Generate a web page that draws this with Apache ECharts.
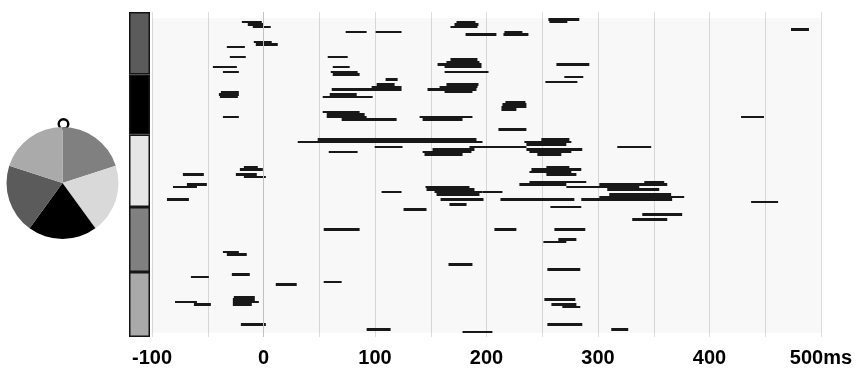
<!DOCTYPE html>
<html>
<head>
<meta charset="utf-8">
<script src="https://cdn.jsdelivr.net/npm/echarts@6/dist/echarts.min.js"></script>
<style>
html,body{margin:0;padding:0;background:#fff;}
#chart{width:856px;height:368px;}
</style>
</head>
<body>
<div id="chart"></div>
<script>
// ---- data ----
// electrode groups (top to bottom of the colour bar): number of channels per group
const groupNames = ['Left', 'Posterior', 'Right', 'Right-frontal', 'Left-frontal'];
const groupSizes = [25, 24, 29, 26, 26];
const groupColors = ['#5b5b5b', '#000000', '#e6e6e6', '#808080', '#a9a9a9'];

// scalp map sectors (clockwise from 12 o'clock)
const scalpSectors = ['Right-frontal', 'Right', 'Posterior', 'Left', 'Left-frontal'];
const scalpValues = [1, 1, 1, 1, 1];
const scalpColors = ['#808080', '#d9d9d9', '#000000', '#5b5b5b', '#aaaaaa'];

// time axis
const timeMin = -100, timeMax = 500, timeStep = 50;
const timeLabels = {'-100': '-100', '0': '0', '100': '100', '200': '200', '300': '300', '400': '400', '500': '500ms'};

// significant intervals: [start ms, end ms, channel]
const group1Segments = [
  [-19.4, -1.5, 4], [-14.1, 0.3, 5], [-9.6, 6.5, 6],
  [173.1, 190.1, 4], [171.3, 192.8, 5], [167.7, 191.9, 6],
  [255.5, 283.2, 3], [256.4, 272.5, 4],
  [73.7, 92.5, 8], [100.6, 123.8, 8], [181.2, 208.9, 9],
  [216.1, 232.2, 8], [215.2, 237.6, 9], [473.1, 489.2, 7],
  [-8.7, 7.4, 12], [-6.9, 12.8, 13], [-32.9, -16.7, 14],
  [-30.2, -15.9, 18], [57.6, 75.5, 18],
  [167.7, 191.9, 19], [164.1, 193.7, 20], [156.1, 195.5, 21], [162.4, 195.5, 22], [162.4, 201.8, 24],
  [262.7, 292.2, 21], [62.1, 77.3, 22], [-45.4, -23.9, 22], [-36.4, -22.1, 24], [60.3, 84.4, 24]
];
const group2Segments = [
  [62.1, 86.2, 25], [269.8, 286.8, 26], [252.8, 281.5, 28], [109.5, 120.3, 27],
  [101.5, 117.6, 29], [97.0, 123.8, 30], [61.2, 123.8, 31], [59.4, 83.6, 33], [53.1, 97.9, 34],
  [164.1, 192.8, 29], [157.9, 191.9, 30], [147.1, 191.0, 31], [162.4, 187.4, 32],
  [217.0, 234.9, 36], [214.3, 235.8, 37], [213.4, 235.8, 38], [213.4, 226.8, 39],
  [53.1, 86.2, 40], [56.7, 90.7, 41], [56.7, 92.5, 42], [70.1, 119.4, 43],
  [-36.4, -22.1, 42], [428.3, 448.9, 42], [140.0, 187.4, 42], [142.7, 178.5, 43],
  [210.7, 235.8, 47], [-38.2, -22.1, 32], [-40.0, -22.1, 33], [-39.1, -23.0, 34]
];
const group3Segments = [
  [48.6, 191.0, 51], [30.7, 196.4, 52], [99.7, 124.7, 54], [184.7, 235.8, 54],
  [58.5, 84.4, 56], [151.6, 189.2, 55], [142.7, 186.5, 56], [144.4, 178.5, 57],
  [249.2, 274.3, 51], [234.0, 276.1, 52], [235.8, 271.6, 53],
  [235.8, 285.9, 55], [238.5, 276.1, 56], [245.6, 267.1, 57], [317.3, 347.7, 54],
  [-72.3, -53.5, 65], [-68.7, -50.8, 69], [-81.2, -59.7, 70], [-86.6, -66.9, 75],
  [-17.6, -5.1, 62], [-21.2, -0.6, 63], [-24.8, -6.0, 65], [-17.6, 2.1, 66],
  [105.9, 123.8, 72],
  [253.7, 274.3, 62], [240.3, 285.0, 63], [238.5, 276.1, 64], [253.7, 280.6, 65],
  [238.5, 289.5, 68], [229.5, 271.6, 69], [271.6, 337.0, 70],
  [341.5, 359.4, 68], [301.2, 362.1, 69], [308.3, 354.9, 71],
  [310.1, 365.6, 73], [301.2, 377.3, 74], [285.0, 366.5, 75],
  [145.3, 184.7, 70], [146.2, 189.2, 71], [153.4, 196.4, 72], [196.4, 214.3, 72], [155.2, 193.7, 73],
  [158.8, 197.3, 75], [212.5, 278.8, 75], [166.8, 182.1, 77], [437.3, 461.5, 76]
];
const group4Segments = [
  [125.6, 146.2, 79], [257.3, 285.0, 78], [339.7, 375.5, 81], [330.7, 362.1, 83],
  [54.0, 86.2, 87], [207.1, 226.8, 87], [260.9, 288.6, 87],
  [264.4, 280.6, 91], [251.0, 271.6, 92],
  [-36.4, -22.1, 96], [-32.9, -15.0, 97], [165.9, 187.4, 101], [254.6, 284.1, 103]
];
const group5Segments = [
  [-28.4, -12.3, 105], [-65.1, -49.0, 106], [54.0, 70.1, 108], [11.0, 29.8, 109],
  [-26.6, -7.8, 114], [-27.5, -7.8, 115], [-27.5, -4.2, 116], [-27.5, -10.5, 117],
  [-79.4, -59.7, 116], [-62.4, -47.2, 117],
  [251.9, 279.7, 115], [258.2, 280.6, 117], [268.0, 284.1, 118],
  [-20.3, 2.1, 125], [254.6, 285.9, 125], [92.5, 114.0, 127], [178.5, 205.3, 128], [311.9, 327.1, 127]
];

// ---- chart ----
const totalChannels = groupSizes.reduce((a, b) => a + b, 0);
const allSegments = [].concat(group1Segments, group2Segments, group3Segments, group4Segments, group5Segments);

const chart = echarts.init(document.getElementById('chart'), null, {renderer: 'canvas'});

const barSeries = groupSizes.map((n, i) => ({
  type: 'bar',
  name: groupNames[i],
  xAxisIndex: 1,
  yAxisIndex: 1,
  stack: 'groups',
  barWidth: '100%',
  silent: true,
  data: [n],
  itemStyle: {color: groupColors[i], borderColor: '#151515', borderWidth: 1.5}
}));

const option = {
  animation: false,
  backgroundColor: '#ffffff',
  graphic: [{
    type: 'circle',
    z: 0,
    shape: {cx: 63.5, cy: 124, r: 4.8},
    style: {fill: 'none', stroke: '#000', lineWidth: 2.4}
  }],
  grid: [
    {left: 152, right: 35, top: 12, bottom: 31},
    {left: 129, width: 21, top: 12, bottom: 31}
  ],
  xAxis: [{
    type: 'value', gridIndex: 0, min: timeMin, max: timeMax, interval: timeStep,
    axisLine: {show: false},
    axisTick: {show: true, length: 6, lineStyle: {color: '#dddddd', width: 1}},
    splitLine: {show: true, lineStyle: {color: '#dddddd', width: 1}},
    axisLabel: {
      margin: 11,
      fontSize: 20, fontWeight: 'bold', color: '#000',
      fontFamily: 'Liberation Sans, Arial, sans-serif',
      showMinLabel: true, showMaxLabel: true,
      formatter: v => timeLabels[String(v)] || ''
    }
  }, {
    type: 'category', gridIndex: 1, data: ['channels'], show: false
  }],
  yAxis: [{
    type: 'value', gridIndex: 0, min: 0, max: totalChannels, inverse: true, show: false
  }, {
    type: 'value', gridIndex: 1, min: 0, max: totalChannels, inverse: true, show: false
  }],
  series: [{
    type: 'pie',
    silent: true,
    center: [62.5, 183],
    radius: 56,
    startAngle: 90,
    clockwise: true,
    label: {show: false},
    labelLine: {show: false},
    data: scalpValues.map((v, i) => ({name: scalpSectors[i], value: v, itemStyle: {color: scalpColors[i]}}))
  }].concat(barSeries, [{
    type: 'custom',
    xAxisIndex: 0,
    yAxisIndex: 0,
    silent: true,
    encode: {x: [0, 1], y: 2},
    data: allSegments,
    renderItem: function (params, api) {
      const s = api.coord([api.value(0), api.value(2)]);
      const e = api.coord([api.value(1), api.value(2)]);
      const h = api.size([0, 1])[1];
      const y0 = Math.round(s[1] - h / 2);
      const y1 = Math.round(s[1] + h / 2);
      return {
        type: 'rect',
        shape: {x: s[0], y: y0, width: e[0] - s[0], height: y1 - y0},
        style: {fill: '#181818'}
      };
    },
    markArea: {
      silent: true,
      itemStyle: {color: 'rgba(0,0,0,0.028)'},
      data: [[{xAxis: timeMin, yAxis: 2.4}, {xAxis: timeMax, yAxis: 128.4}]]
    },
    markLine: {
      silent: true,
      symbol: 'none',
      label: {show: false},
      lineStyle: {color: '#c2c2c2', width: 1, type: 'solid'},
      data: [{xAxis: 0}]
    }
  }])
};
chart.setOption(option);
</script>
</body>
</html>
